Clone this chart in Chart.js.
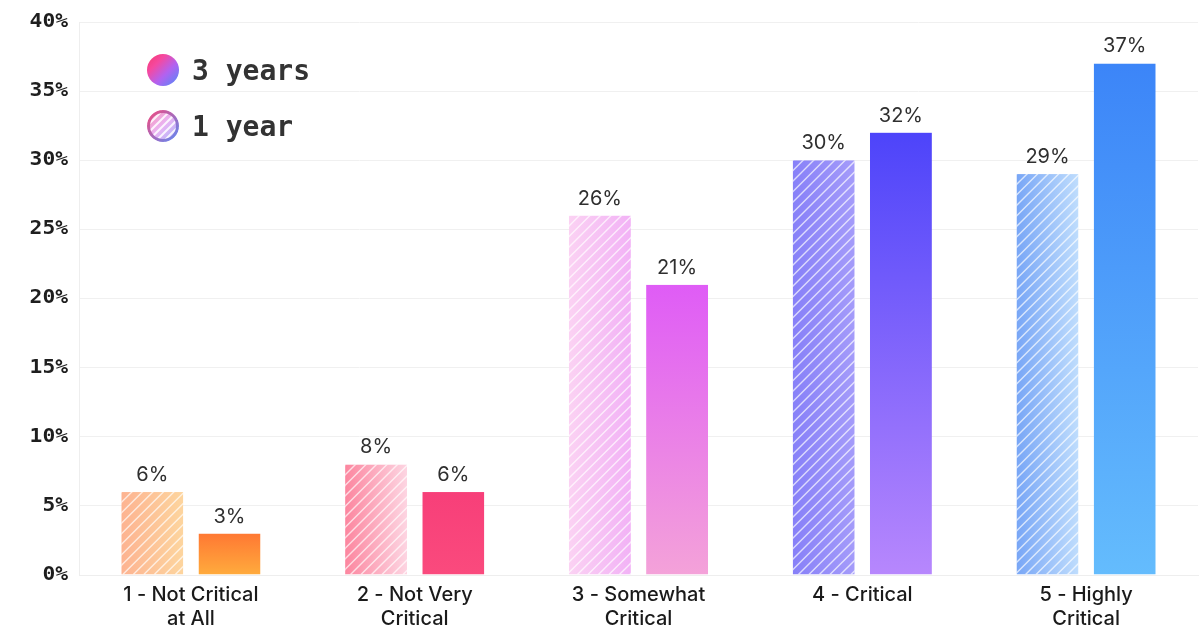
<!DOCTYPE html>
<html lang="en">
<head>
    <meta charset="UTF-8">
    <title>Criticality</title>
    <script src="https://cdn.jsdelivr.net/npm/chart.js"></script>
    <style>
        body {
            margin: 0;
            background: #ffffff;
        }
        .chart-box {
            position: relative;
            width: 1203px;
            height: 629px;
        }
    </style>
</head>
<body>
<div class="chart-box">
    <canvas id="critChart" width="1203" height="629"></canvas>
</div>

<script>
    const categories = [
        ['1 - Not Critical', 'at All'],
        ['2 - Not Very', 'Critical'],
        ['3 - Somewhat', 'Critical'],
        ['4 - Critical'],
        ['5 - Highly', 'Critical']
    ];
    const oneYear = [6, 8, 26, 30, 29];
    const threeYears = [3, 6, 21, 32, 37];
    const yTicks = [0, 5, 10, 15, 20, 25, 30, 35, 40];

    // per-bar gradient stops (hatched ones run left->right, solid ones top->bottom)
    const oneYearColors = [
        ['#fdb391', '#fdd59e'],
        ['#fc869f', '#fdd5e2'],
        ['#fbd2f3', '#f2b2f6'],
        ['#8780f8', '#a49bfa'],
        ['#78a6f6', '#bfddfd']
    ];
    const threeYearColors = [
        ['#ff7833', '#ffab3d'],
        ['#f73f79', '#fa4a7d'],
        ['#df5cf6', '#f4a2d9'],
        ['#4d44fa', '#b787fd'],
        ['#3c85f8', '#64bcfd']
    ];

    const monoFont = "'DejaVu Sans Mono', monospace";

    const barPainter = {
        id: 'barPainter',
        afterDatasetsDraw(chart) {
            const ctx = chart.ctx;
            chart.data.datasets.forEach((ds, di) => {
                const meta = chart.getDatasetMeta(di);
                meta.data.forEach((bar, i) => {
                    const p = bar.getProps(['x', 'y', 'base', 'width'], true);
                    const left = p.x - p.width / 2;
                    const right = p.x + p.width / 2;
                    const stops = ds.stops[i];
                    let g;
                    if (ds.hatched) {
                        g = ctx.createLinearGradient(left, 0, right, 0);
                    } else {
                        g = ctx.createLinearGradient(0, p.y, 0, p.base);
                    }
                    g.addColorStop(0, stops[0]);
                    g.addColorStop(1, stops[1]);

                    ctx.save();
                    ctx.beginPath();
                    ctx.rect(left, p.y, p.width, p.base - p.y);
                    ctx.clip();
                    ctx.fillStyle = g;
                    ctx.fillRect(left, p.y, p.width, p.base - p.y);
                    if (ds.hatched) {
                        ctx.strokeStyle = 'rgba(255,255,255,0.7)';
                        ctx.lineWidth = 1.4;
                        const h = p.base - p.y;
                        for (let s = left - h; s < right + 20; s += 10.5) {
                            ctx.beginPath();
                            ctx.moveTo(s, p.base);
                            ctx.lineTo(s + h + 20, p.y - 20);
                            ctx.stroke();
                        }
                    }
                    ctx.restore();

                    // value label
                    ctx.save();
                    ctx.fillStyle = '#2f2f2f';
                    ctx.font = '20px Inter';
                    ctx.textAlign = 'center';
                    ctx.textBaseline = 'middle';
                    ctx.fillText(ds.data[i] + '%', p.x, p.y - 17);
                    ctx.restore();
                });
            });
        }
    };

    // y labels drawn from the y scale's own ticks, a bit wider than the stock mono font
    const yLabels = {
        id: 'yLabels',
        afterDraw(chart) {
            const ctx = chart.ctx;
            const ys = chart.scales.y;
            ys.ticks.forEach(t => {
                const py = ys.getPixelForValue(t.value);
                ctx.save();
                ctx.translate(68, py);
                ctx.scale(1.12, 1);
                ctx.fillStyle = '#1e1e1e';
                ctx.font = 'bold 19px ' + monoFont;
                ctx.textAlign = 'right';
                ctx.textBaseline = 'middle';
                ctx.fillText(t.value + '%', 0, 0);
                ctx.restore();
            });
        }
    };

    const legendPainter = {
        id: 'legendPainter',
        afterDraw(chart) {
            const ctx = chart.ctx;
            const items = [
                {text: '3 years', y: 70, hatched: false},
                {text: '1 year', y: 126, hatched: true}
            ];
            items.forEach(it => {
                const cx = 163, r = 16;
                ctx.save();
                ctx.beginPath();
                ctx.arc(cx, it.y, r, 0, Math.PI * 2);
                const g = ctx.createLinearGradient(cx - r, it.y - r, cx + r, it.y + r);
                if (it.hatched) {
                    g.addColorStop(0, '#fb8fb0');
                    g.addColorStop(0.5, '#e9b4f4');
                    g.addColorStop(1, '#9fb4fb');
                } else {
                    g.addColorStop(0, '#f7386f');
                    g.addColorStop(0.3, '#f549a0');
                    g.addColorStop(0.6, '#b262f0');
                    g.addColorStop(1, '#4d8cf8');
                }
                ctx.fillStyle = g;
                ctx.fill();
                if (it.hatched) {
                    ctx.clip();
                    ctx.strokeStyle = 'rgba(255,255,255,0.85)';
                    ctx.lineWidth = 2;
                    for (let s = -24; s <= 24; s += 8) {
                        ctx.beginPath();
                        ctx.moveTo(cx + s - r, it.y + r);
                        ctx.lineTo(cx + s + r, it.y - r);
                        ctx.stroke();
                    }
                    ctx.beginPath();
                    ctx.arc(cx, it.y, r - 1.5, 0, Math.PI * 2);
                    const gb = ctx.createLinearGradient(cx - r, it.y - r, cx + r, it.y + r);
                    gb.addColorStop(0, '#f6487a');
                    gb.addColorStop(1, '#5a8cf8');
                    ctx.strokeStyle = gb;
                    ctx.lineWidth = 3;
                    ctx.stroke();
                }
                ctx.restore();

                ctx.save();
                ctx.fillStyle = '#333333';
                ctx.font = 'bold 28px ' + monoFont;
                ctx.textAlign = 'left';
                ctx.textBaseline = 'alphabetic';
                ctx.fillText(it.text, 192, it.y + 10);
                ctx.restore();
            });
        }
    };

    new Chart(document.getElementById('critChart').getContext('2d'), {
        type: 'bar',
        data: {
            labels: categories,
            datasets: [
                {
                    label: '1 year',
                    data: oneYear,
                    hatched: true,
                    stops: oneYearColors,
                    backgroundColor: 'rgba(0,0,0,0)'
                },
                {
                    label: '3 years',
                    data: threeYears,
                    hatched: false,
                    stops: threeYearColors,
                    backgroundColor: 'rgba(0,0,0,0)'
                }
            ]
        },
        options: {
            responsive: false,
            animation: false,
            categoryPercentage: 0.69,
            barPercentage: 0.803,
            layout: {
                padding: {top: 22, right: 5, left: 8, bottom: 0}
            },
            plugins: {
                legend: {display: false},
                tooltip: {enabled: false}
            },
            scales: {
                x: {
                    grid: {display: false},
                    border: {color: '#eeeeee'},
                    afterFit: axis => {
                        axis.height = 54;
                    },
                    ticks: {
                        color: '#1a1a1a',
                        padding: 0,
                        maxRotation: 0,
                        font: {family: 'Inter', size: 20, weight: '500', lineHeight: 1.2}
                    }
                },
                y: {
                    min: 0,
                    max: 40,
                    afterBuildTicks: axis => {
                        axis.ticks = yTicks.map(v => ({value: v}));
                    },
                    afterFit: axis => {
                        axis.width = 71;
                    },
                    grid: {color: '#f0f0f0', drawTicks: false},
                    border: {color: '#eeeeee'},
                    ticks: {display: false}
                }
            }
        },
        plugins: [barPainter, yLabels, legendPainter]
    });
</script>
</body>
</html>
